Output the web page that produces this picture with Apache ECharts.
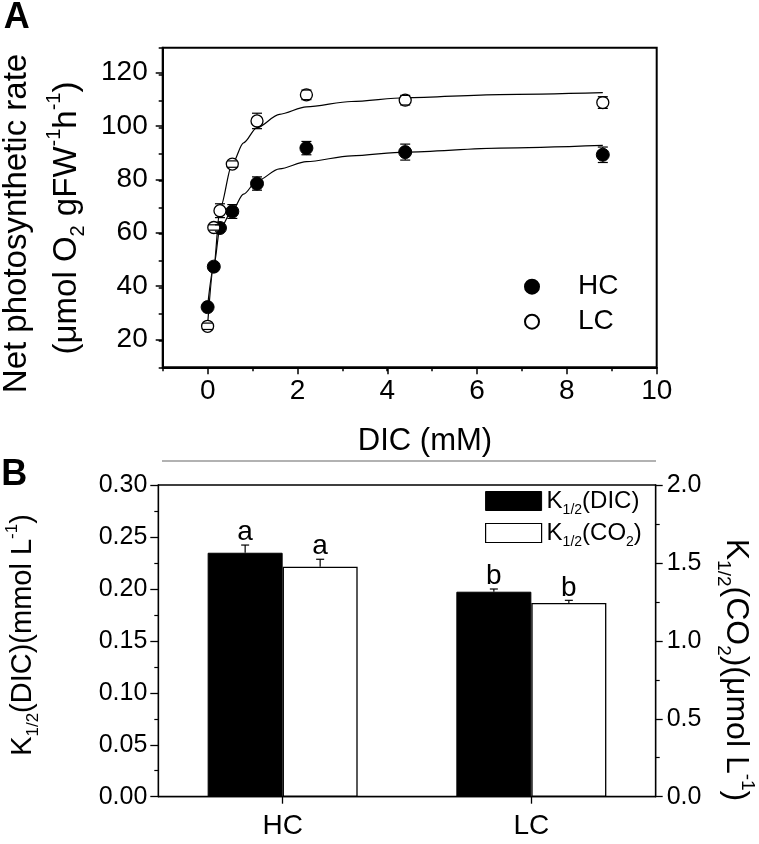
<!DOCTYPE html>
<html>
<head>
<meta charset="utf-8">
<script src="https://cdn.jsdelivr.net/npm/echarts@6/dist/echarts.min.js"></script>
<style>html,body{margin:0;padding:0;background:#fff}#c{width:759px;height:844px}</style>
</head>
<body>
<div id="c"></div>
<script>
// ---------- Panel A data ----------
const dicMM  = [0, 0.1375, 0.275, 0.55, 1.1, 2.2, 4.4, 8.8];
const hcRate = [32.6, 47.8, 62.3, 68.5, 79.0, 92.3, 90.8, 89.8];
const hcSE   = [1.0, 1.0, 1.2, 2.6, 2.5, 2.5, 3.0, 2.9];
const lcRate = [25.4, 62.5, 68.8, 86.3, 102.5, 112.3, 110.3, 109.4];
const lcSE   = [1.2, 1.0, 2.6, 1.2, 2.9, 1.8, 1.8, 2.2];
// fitted curves
const fitDIC = [0, 0.1375, 0.275, 0.55, 0.8, 1.1, 1.6, 2.2, 3.2, 4.4, 6.5, 8.8];
const hcFit  = [33, 48, 62, 69, 75, 80, 84.5, 87.2, 89.4, 90.8, 92.3, 93.3];
const lcFit  = [26, 48, 69.5, 86.5, 94.3, 100, 105, 107.8, 109.8, 111.2, 112.4, 113.1];
// ---------- Panel B data ----------
const groups    = ['HC', 'LC'];
const k12DIC    = [0.2348, 0.1973];
const k12DICSE  = [0.0074, 0.0026];
const k12CO2    = [1.476, 1.243];
const k12CO2SE  = [0.0475, 0.017];
const sigDIC    = ['a', 'b'];
const sigCO2    = ['a', 'b'];

const FONT = '"Liberation Sans", Arial, Helvetica, sans-serif';
const BLACK = '#000';

function richSet(F) {
  const s = Math.round(F * 0.6), P = Math.round(F * 0.74);
  return {
    m:  { fontSize: F, lineHeight: F, fontFamily: FONT, color: BLACK },
    sb: { fontSize: s, height: s, padding: [P, 0, 0, 0], verticalAlign: 'top', fontFamily: FONT, color: BLACK },
    sp: { fontSize: s, height: s, padding: [0, 0, P, 0], verticalAlign: 'top', fontFamily: FONT, color: BLACK }
  };
}

const R = 6.5;
function errBarsA(params, api) {
  const x = api.value(0), y = api.value(1), e = api.value(2);
  const c = api.coord([x, y]);
  const t = api.coord([x, y + e]);
  const b = api.coord([x, y - e]);
  const st = { stroke: BLACK, lineWidth: 1.2, fill: null };
  const ch = [
    { type: 'line', shape: { x1: c[0] - 5, y1: t[1], x2: c[0] + 5, y2: t[1] }, style: st },
    { type: 'line', shape: { x1: c[0] - 5, y1: b[1], x2: c[0] + 5, y2: b[1] }, style: st }
  ];
  if (c[1] - t[1] > R) ch.push({ type: 'line', shape: { x1: c[0], y1: t[1], x2: c[0], y2: c[1] - R }, style: st });
  if (b[1] - c[1] > R) ch.push({ type: 'line', shape: { x1: c[0], y1: c[1] + R, x2: c[0], y2: b[1] }, style: st });
  return { type: 'group', children: ch };
}

const BAR_W = 75;
function barErr(side, letters) {
  return function (params, api) {
    const i = api.value(0), v = api.value(1), e = api.value(2);
    const p = api.coord([i, v]);
    const q = api.coord([i, v + e]);
    const x = p[0] + side * BAR_W / 2;
    const st = { stroke: BLACK, lineWidth: 1.2 };
    return { type: 'group', children: [
      { type: 'line', shape: { x1: x, y1: p[1], x2: x, y2: q[1] }, style: st },
      { type: 'line', shape: { x1: x - 4, y1: q[1], x2: x + 4, y2: q[1] }, style: st },
      { type: 'text', x: x, y: q[1] + 1.5, style: { text: letters[params.dataIndex], fill: BLACK,
          fontSize: 28, fontFamily: FONT, align: 'center', verticalAlign: 'bottom' } }
    ] };
  };
}

const axLine = (w) => ({ show: true, onZero: false, lineStyle: { color: BLACK, width: w } });
const noLine = { show: false, onZero: false };
const tick = (len, w) => ({ show: true, inside: false, length: len, lineStyle: { color: BLACK, width: w } });
const lbl = (size, margin, extra) => Object.assign({ show: true, color: BLACK, fontSize: size, fontFamily: FONT, margin: margin, showMinLabel: true, showMaxLabel: true }, extra || {});

const chart = echarts.init(document.getElementById('c'), null, { renderer: 'canvas' });

const option = {
  animation: false,
  backgroundColor: '#fff',
  grid: [
    { left: 162.7, top: 47.7, width: 494, height: 319.6, show: true, borderColor: BLACK, borderWidth: 2, backgroundColor: 'transparent', outerBoundsMode: 'none' },
    { left: 207.7, top: 47.7, width: 449, height: 319.6, show: false, outerBoundsMode: 'none' },
    { left: 162.7, top: 72.7, width: 494, height: 266.7, show: false, outerBoundsMode: 'none' },
    { left: 158.3, top: 485, width: 497.4, height: 311.7, show: true, borderColor: BLACK, borderWidth: 1.3, backgroundColor: 'transparent', outerBoundsMode: 'none' }
  ],
  xAxis: [
    { gridIndex: 0, type: 'value', min: -1, max: 10, interval: 1, axisLine: axLine(2), axisTick: tick(4, 1.5), axisLabel: { show: false }, splitLine: { show: false } },
    { gridIndex: 1, type: 'value', min: 0, max: 10, interval: 2, axisLine: noLine, axisTick: tick(7, 1.5), axisLabel: lbl(28, 10), splitLine: { show: false } },
    { gridIndex: 2, type: 'value', min: -1, max: 10, show: false, axisLine: noLine },
    { gridIndex: 3, type: 'category', data: groups, axisLine: axLine(1.3), axisTick: Object.assign(tick(7, 1.3), { alignWithLabel: true }), axisLabel: lbl(28, 16), splitLine: { show: false } }
  ],
  yAxis: [
    { gridIndex: 0, type: 'value', min: 10, max: 130, interval: 10, axisLine: axLine(2), axisTick: tick(4, 1.5), axisLabel: { show: false }, splitLine: { show: false } },
    { gridIndex: 1, type: 'value', min: 10, max: 130, show: false, axisLine: noLine },
    { gridIndex: 2, type: 'value', min: 20, max: 120, interval: 20, axisLine: noLine, axisTick: tick(7, 1.5), axisLabel: lbl(28, 15), splitLine: { show: false } },
    { gridIndex: 3, type: 'value', position: 'left', min: 0, max: 0.3, interval: 0.05, axisLine: axLine(1.3), axisTick: tick(8, 1.3),
      minorTick: { show: true, splitNumber: 2, length: 4, lineStyle: { color: BLACK, width: 1.2 } },
      axisLabel: lbl(25, 11, { formatter: v => v.toFixed(2) }), splitLine: { show: false }, minorSplitLine: { show: false } },
    { gridIndex: 3, type: 'value', position: 'right', min: 0, max: 2, interval: 0.5, axisLine: axLine(1.3), axisTick: tick(7, 1.3),
      minorTick: { show: true, splitNumber: 2, length: 4, lineStyle: { color: BLACK, width: 1.2 } },
      axisLabel: lbl(25, 11, { formatter: v => v.toFixed(1) }), splitLine: { show: false }, minorSplitLine: { show: false } }
  ],
  legend: [
    { data: ['HC', 'LC'], orient: 'vertical', left: 524, top: 272.7, padding: 0, itemGap: 7, itemWidth: 14, itemHeight: 14,
      icon: 'circle', selectedMode: false,
      formatter: '{t|{name}}',
      textStyle: { rich: { t: { fontSize: 28, fontFamily: FONT, color: BLACK, padding: [0, 0, 0, 34] } } } },
    { data: [
        { name: 'K1/2(DIC)', itemStyle: { color: BLACK, borderColor: BLACK, borderWidth: 1 } },
        { name: 'K1/2(CO2)', itemStyle: { color: '#fff', borderColor: BLACK, borderWidth: 1.2 } }
      ],
      orient: 'vertical', left: 485, top: 489, padding: 0, itemGap: 4, itemWidth: 56, itemHeight: 19, icon: 'rect', selectedMode: false,
      formatter: function (name) {
        return name === 'K1/2(DIC)' ? '{m|K}{sb|1/2}{m|(DIC)}' : '{m|K}{sb|1/2}{m|(CO}{sb|2}{m|)}';
      },
      textStyle: { rich: richSet(24) } }
  ],
  series: [
    { name: 'HC fit', type: 'line', xAxisIndex: 0, yAxisIndex: 0, data: fitDIC.map((x, i) => [x, hcFit[i]]),
      showSymbol: false, symbol: 'none', smooth: 0.3, smoothMonotone: 'x', lineStyle: { color: BLACK, width: 1.2 }, z: 2, silent: true },
    { name: 'LC fit', type: 'line', xAxisIndex: 0, yAxisIndex: 0, data: fitDIC.map((x, i) => [x, lcFit[i]]),
      showSymbol: false, symbol: 'none', smooth: 0.3, smoothMonotone: 'x', lineStyle: { color: BLACK, width: 1.2 }, z: 2, silent: true },
    { name: 'HC', type: 'scatter', xAxisIndex: 0, yAxisIndex: 0, data: dicMM.map((x, i) => [x, hcRate[i]]),
      symbol: 'circle', symbolSize: 13, itemStyle: { color: BLACK, borderColor: BLACK, borderWidth: 1, opacity: 1 }, z: 3 },
    { name: 'LC', type: 'scatter', xAxisIndex: 0, yAxisIndex: 0, data: dicMM.map((x, i) => [x, lcRate[i]]),
      symbol: 'circle', symbolSize: 12, itemStyle: { color: '#fff', borderColor: BLACK, borderWidth: 1.3, opacity: 1 }, z: 4 },
    { name: 'HC SE', type: 'custom', xAxisIndex: 0, yAxisIndex: 0, renderItem: errBarsA,
      data: dicMM.map((x, i) => [x, hcRate[i], hcSE[i]]), z: 5, silent: true },
    { name: 'LC SE', type: 'custom', xAxisIndex: 0, yAxisIndex: 0, renderItem: errBarsA,
      data: dicMM.map((x, i) => [x, lcRate[i], lcSE[i]]), z: 5, silent: true },
    { name: 'K1/2(DIC)', type: 'bar', xAxisIndex: 3, yAxisIndex: 3, data: k12DIC, barWidth: BAR_W, barGap: '0%',
      itemStyle: { color: BLACK, borderColor: BLACK, borderWidth: 1 } },
    { name: 'K1/2(CO2)', type: 'bar', xAxisIndex: 3, yAxisIndex: 4, data: k12CO2, barWidth: BAR_W, barGap: '0%',
      itemStyle: { color: '#fff', borderColor: BLACK, borderWidth: 1.3 } },
    { name: 'DIC SE', type: 'custom', xAxisIndex: 3, yAxisIndex: 3, renderItem: barErr(-1, sigDIC),
      data: k12DIC.map((v, i) => [i, v, k12DICSE[i]]), z: 5, silent: true },
    { name: 'CO2 SE', type: 'custom', xAxisIndex: 3, yAxisIndex: 4, renderItem: barErr(1, sigCO2),
      data: k12CO2.map((v, i) => [i, v, k12CO2SE[i]]), z: 5, silent: true }
  ],
  graphic: [
    { type: 'text', x: 16.7, y: 18.3, style: { text: 'A', fontSize: 36, fontWeight: 'bold', fontFamily: FONT, fill: BLACK, align: 'center', verticalAlign: 'middle' } },
    { type: 'text', x: 14.2, y: 475, style: { text: 'B', fontSize: 36, fontWeight: 'bold', fontFamily: FONT, fill: BLACK, align: 'center', verticalAlign: 'middle' } },
    { type: 'line', shape: { x1: 162, y1: 461, x2: 656, y2: 461 }, style: { stroke: '#999', lineWidth: 1.5 } },
    { type: 'text', x: 16.8, y: 223.5, rotation: Math.PI / 2,
      style: { text: 'Net photosynthetic rate', fontSize: 33, fontFamily: FONT, fill: BLACK, align: 'center', verticalAlign: 'middle' } },
    { type: 'text', x: 66.5, y: 218, rotation: Math.PI / 2,
      style: { text: '{m|(μmol O}{sb|2}{m| gFW}{sp|-1}{m|h}{sp|-1}{m|)}', rich: richSet(33), align: 'center', verticalAlign: 'middle' } },
    { type: 'text', x: 425, y: 441,
      style: { text: 'DIC (mM)', fontSize: 31, fontFamily: FONT, fill: BLACK, align: 'center', verticalAlign: 'middle' } },
    { type: 'text', x: 22.5, y: 635, rotation: Math.PI / 2,
      style: { text: '{m|K}{sb|1/2}{m|(DIC)(mmol L}{sp|-1}{m|)}', rich: richSet(29), align: 'center', verticalAlign: 'middle' } },
    { type: 'text', x: 735.5, y: 670, rotation: -Math.PI / 2,
      style: { text: '{m|K}{sb|1/2}{m|(CO}{sb|2}{m|)(μmol L}{sp|-1}{m|)}', rich: richSet(32), align: 'center', verticalAlign: 'middle' } }
  ]
};
chart.setOption(option);
</script>
</body>
</html>
